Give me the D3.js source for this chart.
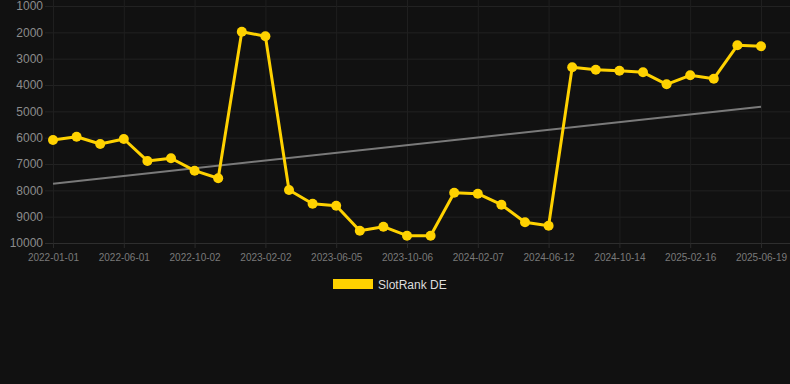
<!DOCTYPE html>
<html>
<head>
<meta charset="utf-8">
<script src="https://cdn.jsdelivr.net/npm/d3@7"></script>
<style>
  html, body { margin: 0; padding: 0; background: #111111; }
  svg { display: block; }
  text { font-family: "Liberation Sans", Arial, sans-serif; }
</style>
</head>
<body>
<svg id="chart" width="790" height="384"></svg>
<script>
const dates = [
  "2022-01-01","2022-02-20","2022-04-11","2022-06-01","2022-07-12","2022-08-22",
  "2022-10-02","2022-11-12","2022-12-23","2023-02-02","2023-03-15","2023-04-25",
  "2023-06-05","2023-07-16","2023-08-26","2023-10-06","2023-11-16","2023-12-27",
  "2024-02-07","2024-03-19","2024-05-01","2024-06-12","2024-07-23","2024-09-02",
  "2024-10-14","2024-11-24","2025-01-05","2025-02-16","2025-03-29","2025-05-09",
  "2025-06-19"
];
const rankValues = [
  6088, 5963, 6240, 6050, 6885, 6783, 7254, 7542, 1976, 2151, 7986, 8507,
  8583, 9532, 9380, 9722, 9722, 8089, 8127, 8545, 9213, 9342, 3328, 3419,
  3457, 3518, 3973, 3631, 3760, 2492, 2530
];
const trendValues = [7747, 4823];
const yTicks = [1000, 2000, 3000, 4000, 5000, 6000, 7000, 8000, 9000, 10000];
const xTickLabels = ["2022-01-01","2022-06-01","2022-10-02","2023-02-02","2023-06-05",
  "2023-10-06","2024-02-07","2024-06-12","2024-10-14","2025-02-16","2025-06-19"];
const seriesName = "SlotRank DE";

const svg = d3.select("#chart");
const W = 790;
const x = d3.scalePoint().domain(dates).range([53, 761]);
const y = d3.scaleLinear().domain([1000, 10000]).range([6, 243]);

svg.append("rect").attr("width", W).attr("height", 384).attr("fill", "#111111");

// horizontal grid
svg.append("g").selectAll("line").data(yTicks).join("line")
  .attr("x1", 45).attr("x2", W)
  .attr("y1", d => y(d) + 0.5).attr("y2", d => y(d) + 0.5)
  .attr("stroke", d => d === 10000 ? "#2e2e2e" : "#222222").attr("stroke-width", 1);

// vertical grid
svg.append("g").selectAll("line").data(xTickLabels).join("line")
  .attr("x1", d => x(d) + 0.5).attr("x2", d => x(d) + 0.5)
  .attr("y1", 0).attr("y2", 243)
  .attr("stroke", "#1f1f1f").attr("stroke-width", 1);

// y axis labels
const yAxis = d3.axisLeft(y).tickValues(yTicks).tickSize(0).tickPadding(0).tickFormat(d3.format("d"));
const yg = svg.append("g").attr("transform", "translate(43,0)").call(yAxis);
yg.select(".domain").remove();
yg.selectAll("text").attr("fill", "#8c8c8c").attr("font-size", 12)
  .style("font-family", '"Liberation Sans", Arial, sans-serif');

// x axis labels
const xAxis = d3.axisBottom(x).tickValues(xTickLabels).tickSize(5).tickPadding(6);
const xg = svg.append("g").attr("transform", "translate(0,243)").call(xAxis);
xg.select(".domain").remove();
xg.selectAll("line").attr("stroke", "#2a2a2a");
xg.selectAll("text").attr("fill", "#7a7a7a").attr("font-size", 10)
  .style("font-family", '"Liberation Sans", Arial, sans-serif');

// trend line
svg.append("line")
  .attr("x1", x(dates[0])).attr("y1", y(trendValues[0]))
  .attr("x2", x(dates[dates.length - 1])).attr("y2", y(trendValues[1]))
  .attr("stroke", "#7a7a7a").attr("stroke-width", 2);

// series line
const line = d3.line().x((d, i) => x(dates[i])).y(d => y(d));
svg.append("path").datum(rankValues)
  .attr("d", line).attr("fill", "none")
  .attr("stroke", "#FFD200").attr("stroke-width", 3).attr("stroke-linejoin", "round");

svg.append("g").selectAll("circle").data(rankValues).join("circle")
  .attr("cx", (d, i) => x(dates[i])).attr("cy", d => y(d)).attr("r", 5)
  .attr("fill", "#FFD200");

// legend
const lg = svg.append("g");
lg.append("rect").attr("x", 333).attr("y", 279).attr("width", 40).attr("height", 10).attr("fill", "#FFD200");
lg.append("text").attr("x", 378).attr("y", 288.5).text(seriesName)
  .attr("fill", "#dddddd").attr("font-size", 12);
</script>
</body>
</html>
